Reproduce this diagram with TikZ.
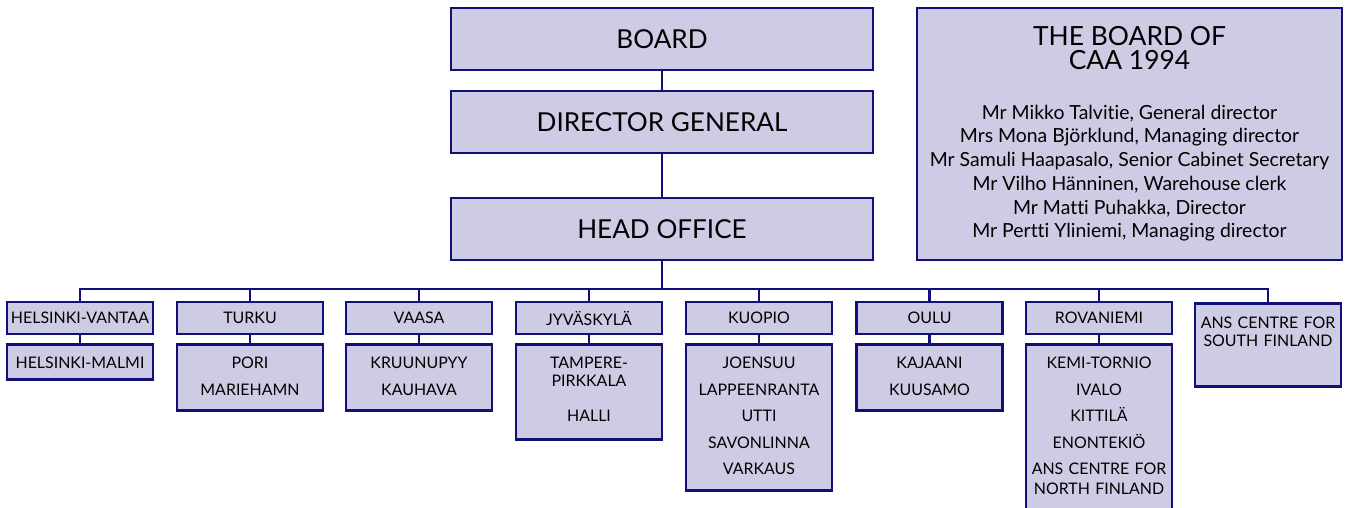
\documentclass[tikz,border=0pt]{standalone}
\usepackage{fontspec}
\setmainfont{Lato}[Ligatures=NoCommon]
\usepackage{tikz}
\definecolor{caafill}{RGB}{205,204,228}
\definecolor{caaline}{RGB}{16,16,120}

\tikzset{
  unit/.style={draw=caaline,fill=caafill,line width=2.8bp,rectangle,inner sep=0pt},
  topunit/.style={unit,minimum width=422bp,minimum height=62bp,font=\fontsize{26.2}{30}\selectfont},
  airport/.style={unit,minimum width=146bp,minimum height=32bp,font=\fontsize{16}{18}\selectfont},
  sublist/.style={unit,anchor=north,text width=146bp,align=center,font=\fontsize{16}{18}\selectfont,text height=24.3bp},
  link/.style={draw=caaline,line width=2.8bp}
}

\begin{document}
\begin{tikzpicture}

\useasboundingbox (0bp,0bp) rectangle (1356bp,-508bp);

% management
\node (board) at (662bp,-39bp)[topunit] {BOARD};
\node (dg) at (662bp,-122bp)[topunit] {DIRECTOR GENERAL};
\node (head) at (662bp,-229bp)[topunit] {HEAD OFFICE};
\node (caa) at (1129.5bp,-134bp)[unit,minimum width=425bp,minimum height=252bp,align=center,font=\fontsize{19.5}{23.8}\selectfont]
  {\fontsize{26.5}{24}\selectfont THE BOARD OF\\
   \fontsize{26.5}{24}\selectfont CAA 1994\\[26bp]
   Mr Mikko Talvitie, General director\\
   Mrs Mona Björklund, Managing director\\
   Mr Samuli Haapasalo, Senior Cabinet Secretary\\
   Mr Vilho Hänninen, Warehouse clerk\\
   Mr Matti Puhakka, Director\\
   Mr Pertti Yliniemi, Managing director};
\coordinate (bus) at (662bp,-289bp);

% airports
\node (hv) at (80bp,-318bp)[airport] {HELSINKI-VANTAA};
\node (turku) at (250bp,-318bp)[airport] {TURKU};
\node (vaasa) at (419bp,-318bp)[airport] {VAASA};
\node (jkl) at (589bp,-318bp)[airport] {JYVÄSKYLÄ};
\node (kuopio) at (759bp,-318bp)[airport] {KUOPIO};
\node (oulu) at (929.5bp,-318bp)[airport] {OULU};
\node (rovaniemi) at (1099bp,-318bp)[airport] {ROVANIEMI};
\node (anssouth) at (1268bp,-302bp)[sublist,text height=25.3bp,text depth=57.7bp] {ANS CENTRE FOR\\SOUTH FINLAND};

\node (hvsub) at (80bp,-343bp)[sublist,text depth=10.7bp] {HELSINKI-MALMI};
\node (turkusub) at (250bp,-343bp)[sublist,text depth=41.7bp] {PORI\\[8.5bp]MARIEHAMN};
\node (vaasasub) at (419bp,-343bp)[sublist,text depth=41.7bp] {KRUUNUPYY\\[8.5bp]KAUHAVA};
\node (jklsub) at (589bp,-343bp)[sublist,text depth=70.7bp] {TAMPERE-\\PIRKKALA\\[17bp]HALLI};
\node (kuopiosub) at (759bp,-343bp)[sublist,text depth=121.7bp] {JOENSUU\\[8.5bp]LAPPEENRANTA\\[8.5bp]UTTI\\[8.5bp]SAVONLINNA\\[8.5bp]VARKAUS};
\node (oulusub) at (929.5bp,-343bp)[sublist,text depth=41.7bp] {KAJAANI\\[8.5bp]KUUSAMO};
\node (rovaniemisub) at (1099bp,-343bp)[sublist,text depth=155.7bp] {KEMI-TORNIO\\[8.5bp]IVALO\\[8.5bp]KITTILÄ\\[8.5bp]ENONTEKIÖ\\[8.5bp]ANS CENTRE FOR\\[2bp]NORTH FINLAND};

% connectors
\draw [link] (board) -- (dg);
\draw [link] (dg) -- (head);
\draw [link] (head) -- (bus);
\draw [link] (bus) -| (hv);
\draw [link] (bus) -| (turku);
\draw [link] (bus) -| (vaasa);
\draw [link] (bus) -| (jkl);
\draw [link] (bus) -| (kuopio);
\draw [link] (bus) -| (oulu);
\draw [link] (bus) -| (rovaniemi);
\draw [link] (bus) -| (anssouth);
\draw [link] (hv) -- (hvsub);
\draw [link] (turku) -- (turkusub);
\draw [link] (vaasa) -- (vaasasub);
\draw [link] (jkl) -- (jklsub);
\draw [link] (kuopio) -- (kuopiosub);
\draw [link] (oulu) -- (oulusub);
\draw [link] (rovaniemi) -- (rovaniemisub);
\end{tikzpicture}
\end{document}
